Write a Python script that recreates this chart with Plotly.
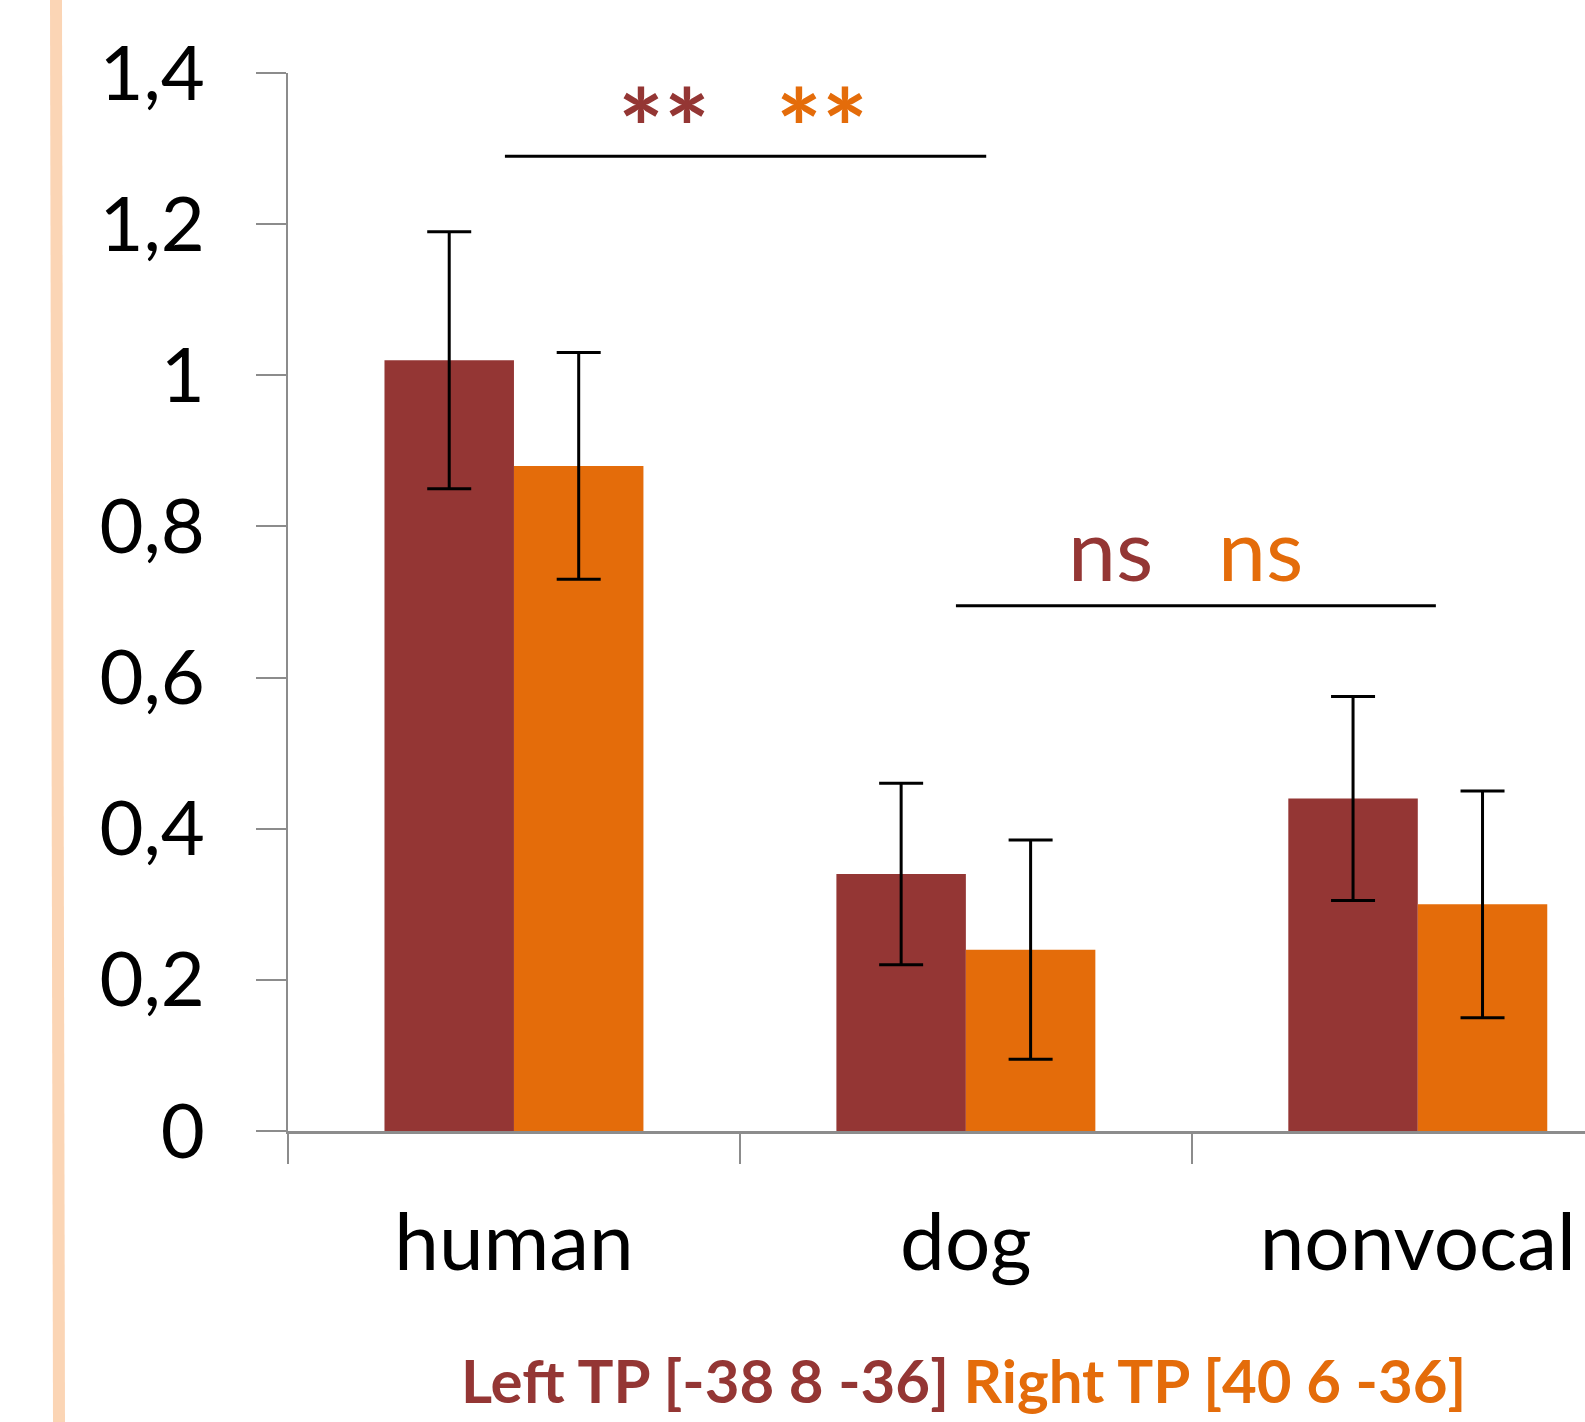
import plotly.graph_objects as go

categories = ["human", "dog", "nonvocal"]
left_tp = [1.02, 0.34, 0.44]
left_err = [0.17, 0.12, 0.135]
right_tp = [0.88, 0.24, 0.30]
right_err = [0.15, 0.145, 0.15]
y_ticks = [0, 0.2, 0.4, 0.6, 0.8, 1.0, 1.2, 1.4]

RED = "#943634"
ORANGE = "#E46C0A"
GRAY = "#8C8C8C"
FONT = "Lato"

W, H = 1585, 1422
L, R, T, B = 288, 0, 73, 291

fig = go.Figure()
fig.add_trace(go.Bar(
    x=categories, y=left_tp, name="Left TP [-38 8 -36]",
    marker=dict(color=RED, line=dict(width=0)),
    error_y=dict(type="data", array=left_err, visible=True,
                 color="black", thickness=3, width=22),
))
fig.add_trace(go.Bar(
    x=categories, y=right_tp, name="Right TP [40 6 -36]",
    marker=dict(color=ORANGE, line=dict(width=0)),
    error_y=dict(type="data", array=right_err, visible=True,
                 color="black", thickness=3, width=22),
))

# significance brackets
fig.add_shape(type="line", xref="x", yref="y", x0=-0.02, x1=1.045, y0=1.29, y1=1.29,
              line=dict(color="black", width=3))
fig.add_shape(type="line", xref="x", yref="y", x0=0.978, x1=2.04, y0=0.695, y1=0.695,
              line=dict(color="black", width=3))

# peach vertical line on the left
fig.add_shape(type="line", xref="paper", yref="paper",
              x0=(56 - L) / (W - L), x1=(59 - L) / (W - L),
              y0=(H - B) / (H - T - B), y1=(H - B - H) / (H - T - B),
              line=dict(color="#FBD5B5", width=12))

ann = []
ann.append(dict(x=0.332, y=1.33, xref="x", yref="y", text="<b>**</b>", showarrow=False,
                font=dict(family=FONT, size=108, color=RED), yanchor="middle"))
ann.append(dict(x=0.681, y=1.33, xref="x", yref="y", text="<b>**</b>", showarrow=False,
                font=dict(family=FONT, size=108, color=ORANGE), yanchor="middle"))
ann.append(dict(x=1.319, y=0.772, xref="x", yref="y", text="ns", showarrow=False,
                font=dict(family=FONT, size=86, color=RED), yanchor="middle"))
ann.append(dict(x=1.653, y=0.772, xref="x", yref="y", text="ns", showarrow=False,
                font=dict(family=FONT, size=86, color=ORANGE), yanchor="middle"))
ann.append(dict(x=(963 - L) / (W - L), y=(H - B - 1380) / (H - T - B),
                xref="paper", yref="paper", showarrow=False, yanchor="middle",
                text=f"<b><span style='color:{RED}'>Left TP [-38 8 -36]</span> "
                     f"<span style='color:{ORANGE}'>Right TP [40 6 -36]</span></b>",
                font=dict(family=FONT, size=60)))

fig.update_layout(
    width=W, height=H,
    margin=dict(l=L, r=R, t=T, b=B, pad=0),
    paper_bgcolor="white", plot_bgcolor="white",
    barmode="group", bargap=0.427, bargroupgap=0,
    showlegend=False,
    separators=", ",
    annotations=ann,
    font=dict(family=FONT, color="black"),
)
fig.update_xaxes(
    type="category", range=[-0.5, 2.37],
    showline=True, linecolor=GRAY, linewidth=3,
    ticks="outside", tickson="boundaries", ticklen=30, tickwidth=2, tickcolor=GRAY,
    tickfont=dict(family=FONT, size=80, color="black"),
    showgrid=False, zeroline=False, ticklabelstandoff=40,
)
fig.update_yaxes(
    range=[0, 1.4], tickvals=y_ticks,
    showline=True, linecolor=GRAY, linewidth=2,
    ticks="outside", ticklen=30, tickwidth=2, tickcolor=GRAY,
    tickfont=dict(family=FONT, size=76, color="black"),
    showgrid=False, zeroline=False, ticklabelstandoff=36,
)

fig.write_html("out.html")
